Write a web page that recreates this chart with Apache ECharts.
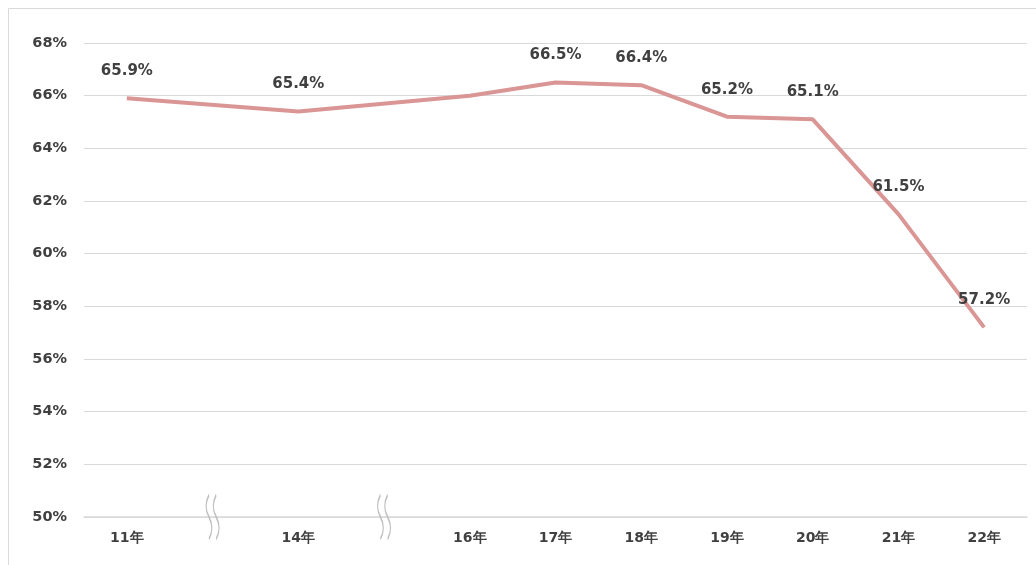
<!DOCTYPE html>
<html><head><meta charset="utf-8">
<script src="https://cdn.jsdelivr.net/npm/echarts@6/dist/echarts.min.js"></script>
<style>html,body{margin:0;padding:0;background:#fff}#c{width:1036px;height:565px}</style>
</head><body><div id="c"></div>
<script>
var categories = ['11年', '', '14年', '', '16年', '17年', '18年', '19年', '20年', '21年', '22年'];
var values = [65.9, null, 65.4, null, 66.0, 66.5, 66.4, 65.2, 65.1, 61.5, 57.2];
var showLabel = [true, false, true, false, false, true, true, true, true, true, true];
var breakIndexes = [1, 3];
var yTicks = {min: 50, max: 68, interval: 2};

var font = '"DejaVu Sans", Verdana, sans-serif';
var chart = echarts.init(document.getElementById('c'));
var breakPath = 'path://M4,0 Q0,11 4,22 Q8,33 4,44 M9,0 Q5,11 9,22 Q13,33 9,44';
chart.setOption({
  animation: false,
  graphic: [{type: 'rect', shape: {x: 8.5, y: 8.5, width: 1040, height: 560}, style: {fill: 'none', stroke: '#d9d9d9', lineWidth: 1}, silent: true, z: -1}],
  grid: {left: 84, right: 9, top: 43, bottom: 48},
  xAxis: {
    type: 'category', data: categories, boundaryGap: true,
    axisLine: {lineStyle: {color: '#d9d9d9', width: 1.5}},
    axisTick: {show: false},
    axisLabel: {color: '#404040', fontFamily: font, fontWeight: 'bold', fontSize: 14, margin: 14, interval: 0}
  },
  yAxis: {
    type: 'value', min: yTicks.min, max: yTicks.max, interval: yTicks.interval,
    axisLine: {show: false}, axisTick: {show: false},
    splitLine: {lineStyle: {color: '#d9d9d9', width: 1.2}},
    axisLabel: {formatter: '{value}%', color: '#404040', fontFamily: font, fontWeight: 'bold', fontSize: 14.5, margin: 17}
  },
  series: [{
    type: 'line', connectNulls: true, showSymbol: true, symbol: 'circle', symbolSize: 1,
    itemStyle: {color: 'rgba(0,0,0,0)'},
    lineStyle: {color: '#d99694', width: 4},
    data: values.map(function (v, i) {
      return {value: v, label: {show: showLabel[i]}};
    }),
    label: {show: true, position: 'top', distance: 19, color: '#404040', fontFamily: font, fontWeight: 'bold', fontSize: 15,
      formatter: function (p) { return p.value.toFixed(1) + '%'; }},
    markPoint: {
      silent: true, symbol: breakPath, symbolSize: [13, 44], symbolKeepAspect: false,
      itemStyle: {color: 'none', borderColor: '#bfbfbf', borderWidth: 2},
      label: {show: false},
      data: breakIndexes.map(function (i) { return {coord: [i, yTicks.min]}; })
    }
  }]
});
</script></body></html>
